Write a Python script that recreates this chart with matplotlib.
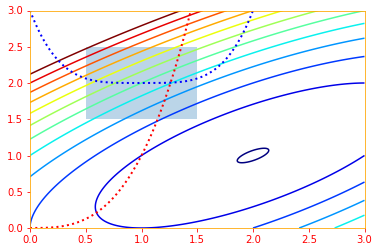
import numpy as np
import matplotlib
matplotlib.use("Agg")
import matplotlib.pyplot as plt
from matplotlib.patches import Rectangle

# Data / parameters
x_range = [0.0, 3.0]
y_range = [0.0, 3.0]
levels = [0.02, 2, 4, 6, 8, 10, 12, 14, 16, 18, 20, 22]
rect_x = [0.5, 1.5]
rect_y = [1.5, 2.5]
ticks = [0.0, 0.5, 1.0, 1.5, 2.0, 2.5, 3.0]
tick_labels = ["0.0", "0.5", "1.0", "1.5", "2.0", "2.5", "3.0"]


def objective(x, y):
    return (x - 2) ** 2 + (x - 2 * y) ** 2


def constraint_red(x):
    return x ** 3


def constraint_blue(x):
    return 2 + (x - 1) ** 4


dpi = 72
fig = plt.figure(figsize=(380 / dpi, 252 / dpi), dpi=dpi)
ax = fig.add_axes([30 / 380, 24 / 252, 334.5 / 380, 217.5 / 252])

gx = np.linspace(x_range[0], x_range[1], 400)
gy = np.linspace(y_range[0], y_range[1], 400)
X, Y = np.meshgrid(gx, gy)
Z = objective(X, Y)

ax.add_patch(Rectangle((rect_x[0], rect_y[0]), rect_x[1] - rect_x[0],
                       rect_y[1] - rect_y[0], facecolor="C0", alpha=0.3,
                       edgecolor="none", zorder=0))
ax.contour(X, Y, Z, levels=levels, cmap="jet", linewidths=1.5, zorder=1)

xs = np.linspace(x_range[0], x_range[1], 600)
ax.plot(xs, constraint_red(xs), color="red", linestyle=":", linewidth=2, zorder=2)
ax.plot(xs, constraint_blue(xs), color="blue", linestyle=":", linewidth=2, zorder=2)

ax.set_xlim(x_range)
ax.set_ylim(y_range)
ax.set_xticks(ticks)
ax.set_xticklabels(tick_labels)
ax.set_yticks(ticks)
ax.set_yticklabels(tick_labels)
ax.tick_params(colors="red", labelsize=10)
for s in ax.spines.values():
    s.set_color("orange")

fig.savefig("out.png", dpi=dpi)
